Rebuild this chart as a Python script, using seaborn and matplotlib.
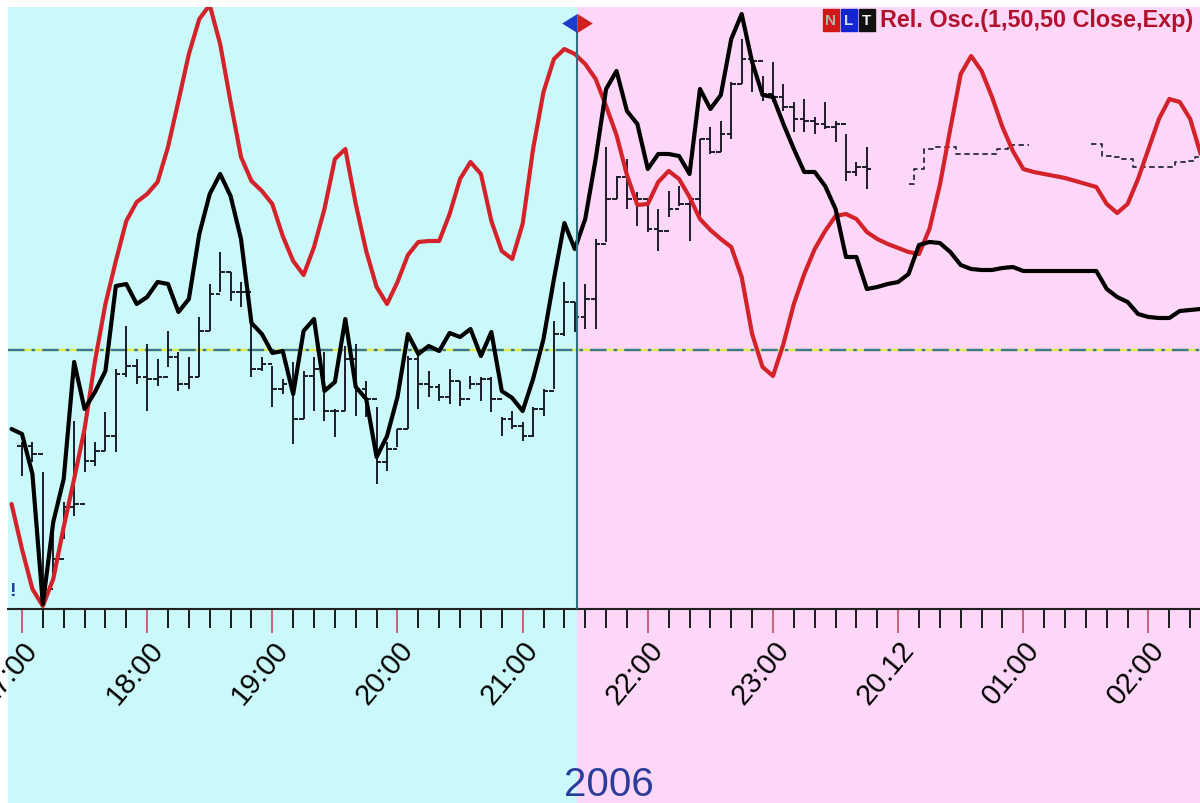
import numpy as np
import pandas as pd
import seaborn as sns
import matplotlib
matplotlib.use("Agg")
import matplotlib.pyplot as plt
from matplotlib.patches import Rectangle

# 5-minute bars, index 0 = 17:00
bar_idx = np.arange(-1, 114)

# Rel. Osc. (red) and its signal (black)
osc_red = [105, 60, 20, 3, 30, 82, 130, 180, 248, 305,
           348, 388, 407, 415, 427, 462, 508, 555, 590, 604,
           565, 507, 452, 428, 418, 405, 373, 348, 334, 362,
           400, 450, 460, 405, 358, 322, 305, 327, 354, 367,
           368, 368, 395, 430, 447, 435, 388, 358, 350, 385,
           460, 517, 550, 560, 555, 545, 530, 503, 474, 434,
           404, 405, 427, 438, 430, 412, 390, 379, 370, 362,
           332, 275, 242, 233, 265, 305, 335, 360, 378, 393,
           395, 390, 377, 370, 365, 361, 357, 355, 380, 424,
           480, 535, 553, 538, 512, 482, 458, 440, 437, 435,
           433, 431, 428, 425, 422, 405, 396, 405, 430, 460,
           490, 510, 507, 490, 455]
osc_black = [180, 175, 135, 5, 87, 130, 247, 200, 217, 238,
             323, 325, 305, 312, 327, 325, 297, 310, 375, 415,
             435, 413, 370, 286, 275, 256, 258, 215, 278, 290,
             218, 227, 290, 222, 210, 152, 173, 212, 275, 255,
             263, 258, 276, 272, 280, 253, 277, 218, 211, 198,
             230, 270, 330, 386, 360, 390, 450, 520, 538, 498,
             485, 440, 455, 455, 453, 435, 520, 500, 514, 570,
             595, 547, 514, 512, 485, 460, 437, 437, 423, 400,
             352, 352, 320, 322, 325, 327, 335, 364, 367, 366,
             357, 344, 340, 339, 339, 341, 342, 338, 338, 338,
             338, 338, 338, 338, 338, 320, 312, 307, 295, 292,
             291, 291, 298, 299, 300]

# price bars 0..81
bar_high = [167, 167, 137, 87, 107, 188, 190, 167, 197, 240,
            283, 250, 265, 250, 278, 257, 252, 292, 325, 357,
            337, 327, 287, 252, 243, 230, 247, 238, 252, 257,
            200, 263, 265, 228, 202, 167, 180, 253, 257, 238,
            225, 240, 228, 233, 232, 232, 192, 198, 187, 202,
            220, 288, 327, 307, 325, 370, 462, 433, 450, 417,
            410, 400, 418, 423, 413, 470, 482, 488, 527, 570,
            550, 533, 547, 525, 507, 510, 492, 507, 488, 475,
            447, 462]
bar_low = [133, 147, 3, 27, 70, 93, 137, 143, 158, 157,
           232, 225, 198, 223, 242, 218, 220, 232, 278, 317,
           308, 302, 232, 238, 202, 215, 165, 190, 198, 188,
           172, 198, 193, 192, 125, 138, 162, 180, 200, 212,
           208, 205, 203, 220, 208, 197, 173, 180, 168, 172,
           193, 220, 273, 277, 280, 280, 367, 410, 400, 383,
           377, 358, 392, 403, 368, 390, 455, 457, 470, 525,
           517, 508, 507, 498, 477, 477, 475, 480, 467, 428,
           433, 420]
bar_close = [163, 155, 20, 50, 102, 105, 148, 158, 173, 235,
             243, 232, 230, 232, 252, 225, 232, 278, 315, 337,
             317, 317, 240, 245, 220, 225, 190, 233, 240, 198,
             198, 250, 220, 210, 147, 160, 180, 250, 225, 222,
             212, 228, 210, 225, 230, 210, 190, 183, 173, 200,
             218, 275, 307, 292, 310, 365, 410, 432, 410, 410,
             380, 378, 400, 405, 410, 470, 457, 475, 525, 550,
             548, 515, 512, 502, 490, 488, 485, 482, 485, 437,
             442, 440]

# thin dashed continuation (bars 85..113)
step_vals = [425, 440, 460, 462, 462, 455, 455, 455, 455, 460, 464, 464,
             np.nan, np.nan, np.nan, np.nan, np.nan, np.nan,
             465, 453, 452, 450, 442, 442, 442, 442, 447, 448, 452]

hour_labels = ["17:00", "18:00", "19:00", "20:00", "21:00", "22:00",
               "23:00", "20.12", "01:00", "02:00"]

split_minute = 266   # 21:26
zero_level = 259

sns.set_theme(style="white")
plt.rcParams["font.family"] = ["Liberation Sans", "DejaVu Sans"]

cyan = "#cbf9f9"
pink = "#fdd7f7"

fig = plt.figure(figsize=(12, 8.04), dpi=100)
fig.patch.set_facecolor("white")
ax = fig.add_axes([8 / 1200, 194 / 804, 1192 / 1200, 602 / 804])
ax.set_facecolor("none")
x0, x1 = -6.7, 564.7
below = -194 / 602

ax.axvspan(x0, split_minute, ymin=below, ymax=1, color=cyan, lw=0,
           clip_on=False, zorder=0)
ax.axvspan(split_minute, x1, ymin=below, ymax=1, color=pink, lw=0,
           clip_on=False, zorder=0)

minutes = bar_idx * 5
df = pd.DataFrame({"minute": minutes, "red": osc_red, "black": osc_black})

# zero line (yellow with dark dash-dot)
ax.axhline(zero_level, color="#e2ec48", lw=1.7, zorder=1)
ax.axhline(zero_level, color="#3a7890", lw=1.7, dashes=(7, 3, 1.5, 3), zorder=1.1)

# price bars
bm = np.arange(len(bar_high)) * 5
bar_open = np.r_[bar_close[0], bar_close[:-1]]
ax.vlines(bm, bar_low, bar_high, color="#1c1c28", lw=1.4, zorder=2)
ax.hlines(bar_close, bm, bm + 2.2, color="#1c1c28", lw=1.4, zorder=2)
ax.hlines(bar_open, bm - 2.2, bm, color="#1c1c28", lw=1.4, zorder=2)

step_min = np.arange(85, 114) * 5
ax.plot(step_min, step_vals, drawstyle="steps-mid", color="#2a2a3a",
        lw=1.3, dashes=(3, 2), zorder=2)

sns.lineplot(data=df, x="minute", y="red", color="#d3222a", lw=3.0,
             ax=ax, zorder=4)
sns.lineplot(data=df, x="minute", y="black", color="black", lw=3.0,
             ax=ax, zorder=5)

# session split
ax.vlines(split_minute, 0, 578, color="#2d6f7c", lw=1.5, zorder=6)
ax.plot([split_minute], [586], marker=[(-1.6, 0), (0, 1), (0, -1)],
        ms=22, color="#1a3cc8", mew=0, clip_on=False, zorder=7)
ax.plot([split_minute], [586], marker=[(1.6, 0), (0, 1), (0, -1)],
        ms=22, color="#d02020", mew=0, clip_on=False, zorder=7)

ax.set_xlim(x0, x1)
ax.set_ylim(0, 602)
ax.set_xlabel("")
ax.set_ylabel("")
ax.set_yticks([])
for s in ["left", "right", "top"]:
    ax.spines[s].set_visible(False)
ax.spines["bottom"].set_color("#222222")
ax.spines["bottom"].set_linewidth(1.5)

ax.set_xticks(np.arange(0, 541, 60))
ax.set_xticks(np.arange(10, 561, 10), minor=True)
ax.set_xticklabels(hour_labels)
ax.tick_params(axis="x", which="both", bottom=True)
ax.tick_params(axis="x", which="major", length=17, width=1.4,
               color="#c8607a", direction="out", pad=2, labelsize=21,
               labelcolor="black")
ax.tick_params(axis="x", which="minor", length=14, width=1.4,
               color="#1a1a1a", direction="out")
plt.setp(ax.get_xticklabels(), rotation=50, ha="right",
         rotation_mode="anchor")

fig.text(12 / 1200, 1 - 592 / 804, "!", color="#2040a0", fontsize=14,
         fontweight="bold", ha="center", va="center")

# legend box
box_cols = ["#d01818", "#1424d0", "#101010"]
letter_cols = ["#a8b8a8", "#d0d8ff", "#f0f0f0"]
for k, (letter, bc, lc) in enumerate(zip("NLT", box_cols, letter_cols)):
    left = (823 + k * 18) / 1200
    fig.patches.append(Rectangle((left, 1 - 32 / 804), 16 / 1200, 22 / 804,
                                 transform=fig.transFigure, color=bc,
                                 zorder=8))
    fig.text(left + 8 / 1200, 1 - 21 / 804, letter, color=lc, fontsize=11,
             fontweight="bold", ha="center", va="center", zorder=9)
fig.text(880 / 1200, 1 - 21 / 804, "Rel. Osc.(1,50,50 Close,Exp)",
         color="#b2122e", fontsize=16.8, fontweight="bold", ha="left",
         va="center", zorder=9)

fig.text(609 / 1200, 1 - 785 / 804, "2006", color="#2b3d9b", fontsize=29,
         ha="center", va="center")

fig.savefig("out.png", dpi=100)
